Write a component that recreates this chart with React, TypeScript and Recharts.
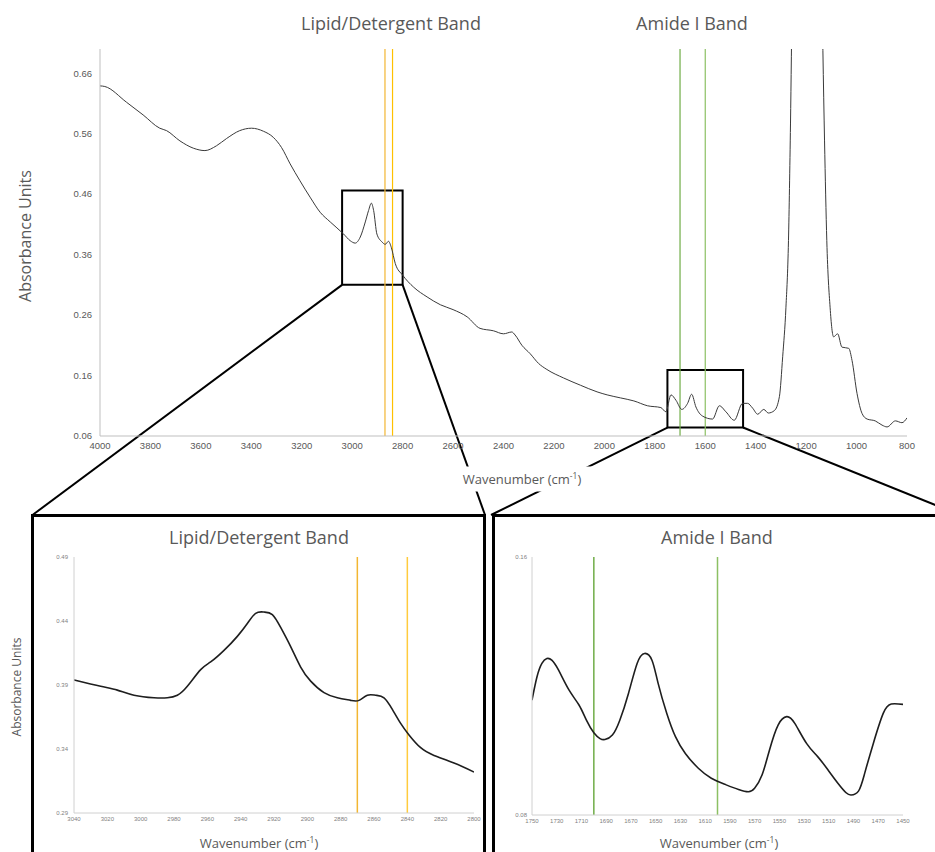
import React from 'react';
import { LineChart, Line, XAxis, YAxis, ReferenceLine, ReferenceArea } from 'recharts';

// ---------- data ----------
const mainWavenumber = [
  4000, 3981, 3895, 3829, 3763, 3736, 3683, 3630, 3584, 3538, 3498, 3446, 3399, 3352, 3313, 3280,
  3246, 3207, 3167, 3127, 3087, 3034, 3008, 2988, 2968, 2948, 2935, 2924, 2915, 2902, 2882, 2869,
  2856, 2845, 2829, 2800, 2756, 2703, 2650, 2600, 2544, 2493, 2440, 2400, 2367, 2354, 2327, 2294,
  2261, 2228, 2162, 2095, 2029, 1989, 1936, 1883, 1829, 1776, 1756, 1736, 1716, 1693, 1670, 1654,
  1637, 1611, 1571, 1544, 1518, 1485, 1452, 1432, 1412, 1392, 1368, 1350, 1326, 1306, 1293, 1280,
  1270, 1262, 1255, 1230, 1200, 1165, 1140, 1127, 1118, 1105, 1091, 1075, 1058, 1031, 1018, 998,
  978, 958, 926, 899, 879, 846, 820, 800,
];
const mainAbsorbance = [
  0.639, 0.638, 0.612, 0.591, 0.569, 0.565, 0.548, 0.536, 0.532, 0.54, 0.552, 0.565, 0.569, 0.564, 0.554, 0.537,
  0.51, 0.482, 0.455, 0.43, 0.414, 0.394, 0.383, 0.379, 0.389, 0.414, 0.433, 0.445, 0.433, 0.394, 0.381, 0.377,
  0.382, 0.372, 0.345, 0.326, 0.306, 0.29, 0.277, 0.269, 0.257, 0.238, 0.234, 0.229, 0.232, 0.227, 0.21, 0.196,
  0.18, 0.17, 0.156, 0.144, 0.133, 0.128, 0.123, 0.118, 0.11, 0.107, 0.1, 0.128, 0.119, 0.104, 0.114, 0.129,
  0.108, 0.093, 0.088, 0.11, 0.1, 0.086, 0.114, 0.114, 0.106, 0.096, 0.104, 0.098, 0.102, 0.125, 0.191, 0.273,
  0.383, 0.576, 0.8, 1.3, 1.5, 1.3, 0.85, 0.548, 0.383, 0.273, 0.224, 0.229, 0.207, 0.205, 0.185, 0.13,
  0.097, 0.088, 0.085, 0.078, 0.075, 0.085, 0.082, 0.09,
];

const lipidWavenumber = [
  3040, 3024, 3014, 3004, 2992, 2984, 2978, 2972, 2964, 2958, 2950, 2942, 2936, 2931, 2926, 2921,
  2916, 2910, 2904, 2898, 2890, 2882, 2874, 2869, 2864, 2859, 2854, 2849, 2844, 2839, 2832, 2824,
  2812, 2800,
];
const lipidAbsorbance = [
  0.394, 0.389, 0.386, 0.382, 0.38, 0.38, 0.382, 0.389, 0.402, 0.408, 0.417, 0.428, 0.438, 0.446, 0.447, 0.445,
  0.435, 0.42, 0.404, 0.393, 0.384, 0.38, 0.378, 0.378, 0.382, 0.382, 0.38, 0.371, 0.36, 0.351, 0.341, 0.335,
  0.329, 0.322,
];

const amideWavenumber = [
  1750, 1746, 1742, 1738, 1734, 1728.5, 1720, 1712, 1706, 1700, 1695, 1691, 1685, 1679, 1672, 1665,
  1659, 1653, 1648, 1641, 1634, 1626, 1615.5, 1605, 1594, 1583, 1575, 1570, 1564, 1558, 1551, 1544,
  1537.5, 1528, 1519, 1510.5, 1502.5, 1496, 1492, 1486, 1481, 1474, 1466, 1459.5, 1450,
];
const amideAbsorbance = [
  0.1156, 0.1228, 0.127, 0.1285, 0.128, 0.1249, 0.1187, 0.1141, 0.1094, 0.1055, 0.1037, 0.1034, 0.1048, 0.1094, 0.1177, 0.127,
  0.1301, 0.128, 0.1208, 0.1115, 0.1043, 0.0991, 0.0945, 0.0914, 0.0895, 0.0879, 0.0872, 0.0883, 0.0924, 0.1001, 0.1079, 0.1105,
  0.1084, 0.1022, 0.0981, 0.0939, 0.0898, 0.0869, 0.0862, 0.0874, 0.0929, 0.1022, 0.1115, 0.1144, 0.1143,
];

const mainXTicks = [4000, 3800, 3600, 3400, 3200, 3000, 2800, 2600, 2400, 2200, 2000, 1800, 1600, 1400, 1200, 1000, 800];
const mainYTicks = [0.06, 0.16, 0.26, 0.36, 0.46, 0.56, 0.66];
const mainXDomain = [800, 4000];
const mainYDomain = [0.06, 0.7];

const lipidXTicks = [3040, 3020, 3000, 2980, 2960, 2940, 2920, 2900, 2880, 2860, 2840, 2820, 2800];
const lipidYTicks = [0.29, 0.34, 0.39, 0.44, 0.49];
const lipidXDomain = [2800, 3040];
const lipidYDomain = [0.29, 0.49];

const amideXTicks = [1750, 1730, 1710, 1690, 1670, 1650, 1630, 1610, 1590, 1570, 1550, 1530, 1510, 1490, 1470, 1450];
const amideYTicks = [0.08, 0.16];
const amideXDomain = [1450, 1750];
const amideYDomain = [0.08, 0.16];

const lipidBandLines = [2870, 2840];
const amideBandLines = [1700, 1600];
const lipidZoomX = [3040, 2800];
const lipidZoomY = [0.31, 0.466];
const amideZoomX = [1750, 1450];
const amideZoomY = [0.074, 0.169];

const toRows = (xs: number[], ys: number[]) => xs.map((x, i) => ({ x, y: ys[i] }));
const mainData = toRows(mainWavenumber, mainAbsorbance);
const lipidData = toRows(lipidWavenumber, lipidAbsorbance);
const amideData = toRows(amideWavenumber, amideAbsorbance);

// ---------- layout ----------
const W = 935;
const H = 852;
const MAIN = { left: 100, right: 907, top: 49, bottom: 436 };
const INSET_TOP = 514;
const INSET1 = { left: 31, width: 455 };
const INSET2 = { left: 492, width: 470 };

const TEXT = '#595959';
const AXIS = '#bfbfbf';
const TXT_FONT = '"Open Sans", sans-serif';
const TICK_FONT = '"Liberation Sans", Arial, sans-serif';
const ORANGE1 = '#F2B632';
const ORANGE2 = '#FFC000';
const GREEN1 = '#70AD47';
const GREEN2 = '#8CC063';

// pixel -> data for main chart (used for connector end points)
const invX = (px: number) =>
  mainXDomain[1] - ((px - MAIN.left) / (MAIN.right - MAIN.left)) * (mainXDomain[1] - mainXDomain[0]);
const invY = (py: number) =>
  mainYDomain[0] + ((MAIN.bottom - py) / (MAIN.bottom - MAIN.top)) * (mainYDomain[1] - mainYDomain[0]);

const connectors = [
  { from: { x: lipidZoomX[0], y: lipidZoomY[0] }, to: { x: invX(32.5), y: invY(INSET_TOP + 1) } },
  { from: { x: lipidZoomX[1], y: lipidZoomY[0] }, to: { x: invX(485), y: invY(INSET_TOP + 1) } },
  { from: { x: amideZoomX[0], y: amideZoomY[0] }, to: { x: invX(491), y: invY(INSET_TOP + 1) } },
  { from: { x: amideZoomX[1], y: amideZoomY[0] }, to: { x: invX(960), y: invY(INSET_TOP + 1) } },
];

const Txt = ({ x, y, size, rotate, bg, children }: any) => (
  <div
    style={{
      position: 'absolute',
      left: x,
      top: y,
      transform: `translate(-50%, -50%)${rotate ? ' rotate(-90deg)' : ''}`,
      fontFamily: TXT_FONT,
      fontSize: size,
      color: TEXT,
      whiteSpace: 'nowrap',
      lineHeight: 1,
      background: bg ? '#fff' : 'transparent',
      padding: bg ? '6px 14px' : 0,
    }}
  >
    {children}
  </div>
);

const WaveLabel = () => (
  <>
    Wavenumber (cm
    <span style={{ fontSize: '0.65em', position: 'relative', top: '-0.55em' }}>-1</span>)
  </>
);

const fmt2 = (v: number) => v.toFixed(2);

export default function App() {
  return (
    <div style={{ position: 'absolute', left: 0, top: 0, width: W, height: H, overflow: 'hidden', background: '#fff' }}>
      {/* main spectrum */}
      <div style={{ position: 'absolute', left: 0, top: 0 }}>
        <LineChart width={W} height={H} data={mainData} margin={{ top: MAIN.top, right: W - MAIN.right, left: 0, bottom: H - MAIN.bottom - 20 }}>
          <XAxis
            dataKey="x"
            type="number"
            domain={mainXDomain}
            reversed
            allowDataOverflow
            ticks={mainXTicks}
            interval={0}
            height={20}
            tickLine={false}
            tickSize={6}
            tickMargin={0}
            axisLine={{ stroke: AXIS }}
            tick={{ fontSize: 9.5, fill: TEXT, fontFamily: TICK_FONT }}
          />
          <YAxis
            type="number"
            domain={mainYDomain}
            allowDataOverflow
            ticks={mainYTicks}
            interval={0}
            width={MAIN.left}
            tickLine={false}
            axisLine={{ stroke: AXIS }}
            tickFormatter={fmt2}
            tick={{ fontSize: 9.5, fill: TEXT, fontFamily: TICK_FONT }}
          />
          <ReferenceLine x={lipidBandLines[0]} stroke={ORANGE1} strokeWidth={1.2} />
          <ReferenceLine x={lipidBandLines[1]} stroke={ORANGE2} strokeWidth={1.2} />
          <ReferenceLine x={amideBandLines[0]} stroke={GREEN1} strokeWidth={1.2} />
          <ReferenceLine x={amideBandLines[1]} stroke={GREEN2} strokeWidth={1.2} />
          <Line dataKey="y" type="monotone" dot={false} stroke="#3a3a3a" strokeWidth={1} isAnimationActive={false} />
          <ReferenceArea x1={lipidZoomX[0]} x2={lipidZoomX[1]} y1={lipidZoomY[0]} y2={lipidZoomY[1]} fill="none" fillOpacity={0} stroke="#000" strokeWidth={2} ifOverflow="visible" />
          <ReferenceArea x1={amideZoomX[0]} x2={amideZoomX[1]} y1={amideZoomY[0]} y2={amideZoomY[1]} fill="none" fillOpacity={0} stroke="#000" strokeWidth={2} ifOverflow="visible" />
          {connectors.map((c, i) => (
            <ReferenceLine key={i} segment={[c.from, c.to]} stroke="#000" strokeWidth={2} ifOverflow="visible" />
          ))}
        </LineChart>
      </div>

      <Txt x={391} y={23} size={18}>Lipid/Detergent Band</Txt>
      <Txt x={692} y={23} size={18}>Amide I Band</Txt>
      <Txt x={25} y={236} size={16} rotate>Absorbance Units</Txt>
      <Txt x={522} y={479} size={13} bg><WaveLabel /></Txt>

      {/* inset 1 */}
      <div style={{ position: 'absolute', left: INSET1.left, top: INSET_TOP, width: INSET1.width, height: 400, border: '3px solid #000', boxSizing: 'border-box', background: '#fff' }} />
      <div style={{ position: 'absolute', left: 34, top: 516 }}>
        <LineChart width={449} height={336} data={lipidData} margin={{ top: 41, right: 9, left: 0, bottom: 19 }}>
          <XAxis
            dataKey="x"
            type="number"
            domain={lipidXDomain}
            reversed
            allowDataOverflow
            ticks={lipidXTicks}
            interval={0}
            height={20}
            tickLine={false}
            tickSize={4}
            tickMargin={0}
            axisLine={{ stroke: '#d0d0d0' }}
            tick={{ fontSize: 6, fill: '#7f7f7f', fontFamily: TICK_FONT }}
          />
          <YAxis
            type="number"
            domain={lipidYDomain}
            allowDataOverflow
            ticks={lipidYTicks}
            interval={0}
            width={40}
            tickLine={false}
            tickSize={4}
            tickMargin={2}
            axisLine={{ stroke: '#d0d0d0' }}
            tickFormatter={fmt2}
            tick={{ fontSize: 6, fill: '#7f7f7f', fontFamily: TICK_FONT }}
          />
          <ReferenceLine x={lipidBandLines[0]} stroke={ORANGE1} strokeWidth={1.5} />
          <ReferenceLine x={lipidBandLines[1]} stroke="#FFCB3D" strokeWidth={1.5} />
          <Line dataKey="y" type="natural" dot={false} stroke="#1e1e1e" strokeWidth={1.6} isAnimationActive={false} />
        </LineChart>
      </div>
      <Txt x={259} y={537} size={18}>Lipid/Detergent Band</Txt>
      <Txt x={17} y={687} size={12} rotate>Absorbance Units</Txt>
      <Txt x={259} y={843} size={13}><WaveLabel /></Txt>

      {/* inset 2 */}
      <div style={{ position: 'absolute', left: INSET2.left, top: INSET_TOP, width: INSET2.width, height: 400, border: '3px solid #000', boxSizing: 'border-box', background: '#fff' }} />
      <div style={{ position: 'absolute', left: 495, top: 516 }}>
        <LineChart width={440} height={336} data={amideData} margin={{ top: 41, right: 32, left: 0, bottom: 17 }}>
          <XAxis
            dataKey="x"
            type="number"
            domain={amideXDomain}
            reversed
            allowDataOverflow
            ticks={amideXTicks}
            interval={0}
            height={20}
            tickLine={false}
            tickSize={4}
            tickMargin={0}
            axisLine={{ stroke: '#d0d0d0' }}
            tick={{ fontSize: 6, fill: '#7f7f7f', fontFamily: TICK_FONT }}
          />
          <YAxis
            type="number"
            domain={amideYDomain}
            allowDataOverflow
            ticks={amideYTicks}
            interval={0}
            width={37}
            tickLine={false}
            tickSize={3}
            tickMargin={2}
            axisLine={{ stroke: '#d0d0d0' }}
            tickFormatter={fmt2}
            tick={{ fontSize: 6, fill: '#7f7f7f', fontFamily: TICK_FONT }}
          />
          <ReferenceLine x={amideBandLines[0]} stroke={GREEN1} strokeWidth={1.5} />
          <ReferenceLine x={amideBandLines[1]} stroke={GREEN2} strokeWidth={1.5} />
          <Line dataKey="y" type="natural" dot={false} stroke="#1e1e1e" strokeWidth={1.6} isAnimationActive={false} />
        </LineChart>
      </div>
      <Txt x={717} y={537} size={18}>Amide I Band</Txt>
      <Txt x={719} y={843} size={13}><WaveLabel /></Txt>
    </div>
  );
}
